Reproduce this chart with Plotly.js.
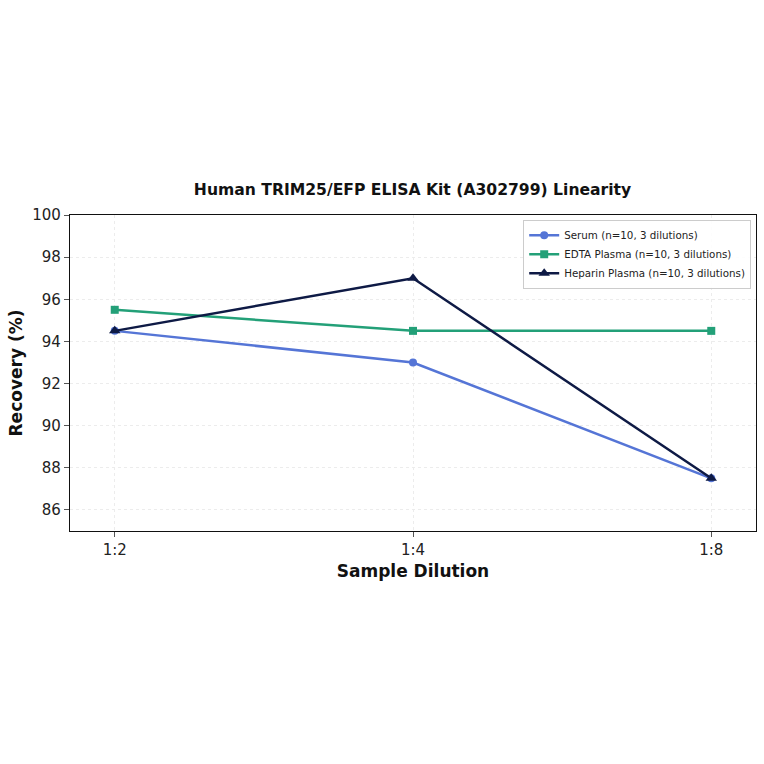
<!DOCTYPE html>
<html>
<head>
<meta charset="utf-8">
<script src="https://cdn.plot.ly/plotly-3.0.1.min.js"></script>
<style>
  html, body { margin: 0; padding: 0; background: #fff; }
  #chart { width: 764px; height: 764px; }
</style>
</head>
<body>
<div id="chart"></div>
<script>
const dilutions = ['1:2', '1:4', '1:8'];
const serum = [94.5, 93.0, 87.5];
const edtaPlasma = [95.5, 94.5, 94.5];
const heparinPlasma = [94.5, 97.0, 87.5];

const seriesNames = [
    'Serum (n=10, 3 dilutions)',
    'EDTA Plasma (n=10, 3 dilutions)',
    'Heparin Plasma (n=10, 3 dilutions)'
];
const seriesColors = ['#5575d6', '#23a078', '#0e1a45'];
const seriesSymbols = ['circle', 'square', 'triangle-up'];
const seriesSizes = [8, 8, 10];
const seriesValues = [serum, edtaPlasma, heparinPlasma];

const traces = seriesValues.map((vals, i) => ({
    x: dilutions,
    y: vals,
    type: 'scatter',
    mode: 'lines+markers',
    name: seriesNames[i],
    line: { color: seriesColors[i], width: 2.5 },
    marker: { color: seriesColors[i], symbol: seriesSymbols[i], size: seriesSizes[i] }
}));

const axisStyle = {
    tickfont: { size: 15, color: '#222' },
    ticks: 'outside', ticklen: 5, tickcolor: '#555', tickwidth: 1,
    showline: true, linecolor: '#111', linewidth: 1.4, mirror: true,
    showgrid: true, gridcolor: '#ececec', griddash: 'dot', gridwidth: 1,
    zeroline: false
};

const layout = {
    width: 764,
    height: 764,
    paper_bgcolor: '#fff',
    plot_bgcolor: '#fff',
    font: { family: 'DejaVu Sans, sans-serif', color: '#222' },
    margin: { l: 70, r: 8, t: 215, b: 233 },
    title: {
        text: '<b>Human TRIM25/EFP ELISA Kit (A302799) Linearity</b>',
        font: { size: 15.6, color: '#111' },
        x: 0.54, xanchor: 'center',
        y: 1 - 190 / 764, yanchor: 'middle'
    },
    xaxis: Object.assign({
        type: 'category',
        range: [-0.15, 2.15],
        title: { text: '<b>Sample Dilution</b>', font: { size: 17, color: '#111' }, standoff: 6 }
    }, axisStyle),
    yaxis: Object.assign({
        range: [85, 100],
        tickvals: [86, 88, 90, 92, 94, 96, 98, 100],
        title: { text: '<b>Recovery (%)</b>', font: { size: 17, color: '#111' }, standoff: 5 }
    }, axisStyle),
    legend: {
        x: 0.993, xanchor: 'right',
        y: 0.985, yanchor: 'top',
        bgcolor: 'rgba(255,255,255,0.9)',
        bordercolor: '#ccc', borderwidth: 1,
        font: { size: 10.3, color: '#222' },
        itemwidth: 30,
        tracegroupgap: 0
    },
    showlegend: true
};

Plotly.newPlot('chart', traces, layout, { displayModeBar: false });
</script>
</body>
</html>
